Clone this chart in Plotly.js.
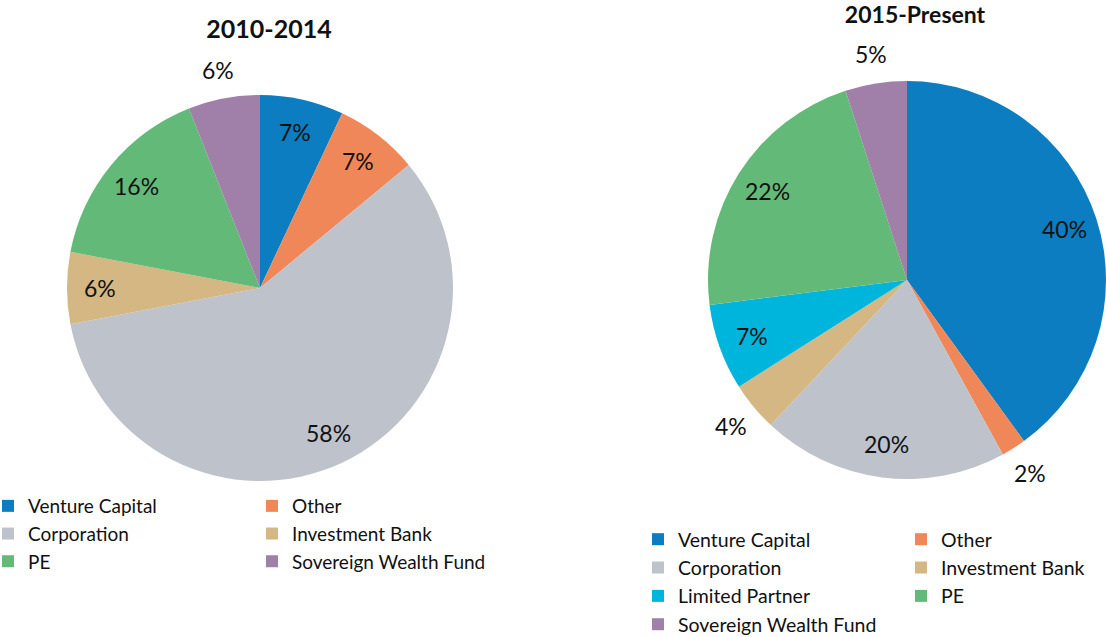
<!DOCTYPE html>
<html>
<head>
<meta charset="utf-8">
<script src="https://cdn.plot.ly/plotly-3.0.1.min.js"></script>
<style>
  html, body { margin: 0; padding: 0; background: #ffffff; overflow: hidden; width: 1106px; height: 637px; }
  #wrap { position: relative; width: 1106px; height: 637px; overflow: hidden; }
  #left { position: absolute; left: -12px; top: 0; width: 566px; height: 637px; }
  #right { position: absolute; left: 553px; top: 0; width: 700px; height: 637px; }
</style>
</head>
<body>
<div id="wrap">
  <div id="left"></div>
  <div id="right"></div>
</div>
<script>
// ---- data ----
const leftTitle = "2010-2014";
const leftLabels = ["Venture Capital", "Other", "Corporation", "Investment Bank", "PE", "Sovereign Wealth Fund"];
const leftValues = [7, 7, 58, 6, 16, 6];

const rightTitle = "2015-Present";
const rightLabels = ["Venture Capital", "Other", "Corporation", "Investment Bank", "Limited Partner", "PE", "Sovereign Wealth Fund"];
const rightValues = [40, 2, 20, 4, 7, 22, 5];

// ---- styling ----
const colorMap = {
  "Venture Capital": "#0B7DC0",
  "Other": "#F08758",
  "Corporation": "#BEC3CB",
  "Investment Bank": "#D5B783",
  "Limited Partner": "#00B5DB",
  "PE": "#63BA78",
  "Sovereign Wealth Fund": "#A07FA8"
};
const FONT = "Lato, 'Open Sans', sans-serif";
const TEXT = "#111111";

// where each slice's percentage label sits (inside the slice or just outside it)
const leftPlacement = ["inside", "inside", "inside", "inside", "inside", "outside"];
const rightPlacement = ["inside", "outside", "inside", "outside", "inside", "inside", "outside"];

// geometry of each figure (in its own div's pixels)
const LW = 566, RW = 700, H = 637;
const leftGeo = { cx: 272, cy: 288, r: 193 };
const rightGeo = { cx: 354, cy: 280, r: 199 };

function domainOf(g, W) {
  return { x: [(g.cx - g.r) / W, (g.cx + g.r) / W], y: [1 - (g.cy + g.r) / H, 1 - (g.cy - g.r) / H] };
}

function pieTrace(labels, values, domain) {
  return {
    type: "pie",
    labels: labels,
    values: values,
    sort: false,
    direction: "clockwise",
    rotation: 0,
    domain: domain,
    marker: { colors: labels.map(l => colorMap[l]), line: { width: 0 } },
    textinfo: "none",
    hoverinfo: "label+percent"
  };
}

// percentage labels placed at each slice's mid-angle (derived from the values)
function sliceLabels(values, placement, g, W) {
  const total = values.reduce((a, b) => a + b, 0);
  let cum = 0;
  return values.map((v, i) => {
    const mid = (cum + v / 2) / total * 2 * Math.PI;
    cum += v;
    const k = placement[i] === "inside" ? 0.83 : 1.15;
    const px = g.cx + k * g.r * Math.sin(mid);
    const py = g.cy - k * g.r * Math.cos(mid);
    return {
      x: px / W, y: 1 - py / H, xref: "paper", yref: "paper",
      text: v + "%", showarrow: false, xanchor: "center", yanchor: "middle",
      font: { family: FONT, size: 23, color: TEXT }
    };
  });
}

const leftLayout = {
  width: LW, height: H,
  margin: { l: 0, r: 0, t: 0, b: 0, autoexpand: false },
  paper_bgcolor: "rgba(0,0,0,0)",
  plot_bgcolor: "rgba(0,0,0,0)",
  font: { family: FONT, color: TEXT },
  title: { text: "<b>" + leftTitle + "</b>", font: { family: FONT, size: 25, color: TEXT },
           xref: "container", yref: "container", x: 281 / LW, xanchor: "center", y: 1 - 29 / H, yanchor: "middle" },
  showlegend: true,
  legend: { orientation: "h", x: 0, xanchor: "left", y: 1 - 487 / H, yanchor: "top",
            entrywidth: 219, entrywidthmode: "pixels", traceorder: "normal",
            font: { family: FONT, size: 19, color: TEXT }, bgcolor: "rgba(0,0,0,0)" },
  annotations: sliceLabels(leftValues, leftPlacement, leftGeo, LW)
};

const rightLayout = {
  width: RW, height: H,
  margin: { l: 0, r: 0, t: 0, b: 0, autoexpand: false },
  paper_bgcolor: "rgba(0,0,0,0)",
  plot_bgcolor: "rgba(0,0,0,0)",
  font: { family: FONT, color: TEXT },
  title: { text: "<b>" + rightTitle + "</b>", font: { family: FONT, size: 23, color: TEXT },
           xref: "container", yref: "container", x: 362 / RW, xanchor: "center", y: 1 - 15 / H, yanchor: "middle" },
  showlegend: true,
  legend: { orientation: "h", x: 85 / RW, xanchor: "left", y: 1 - 520 / H, yanchor: "top",
            entrywidth: 218, entrywidthmode: "pixels", traceorder: "normal",
            font: { family: FONT, size: 19.5, color: TEXT }, bgcolor: "rgba(0,0,0,0)" },
  annotations: sliceLabels(rightValues, rightPlacement, rightGeo, RW)
};

Plotly.newPlot("left", [pieTrace(leftLabels, leftValues, domainOf(leftGeo, LW))],
  leftLayout, { displayModeBar: false, staticPlot: true });

Plotly.newPlot("right", [pieTrace(rightLabels, rightValues, domainOf(rightGeo, RW))],
  rightLayout, { displayModeBar: false, staticPlot: true });
</script>
</body>
</html>
